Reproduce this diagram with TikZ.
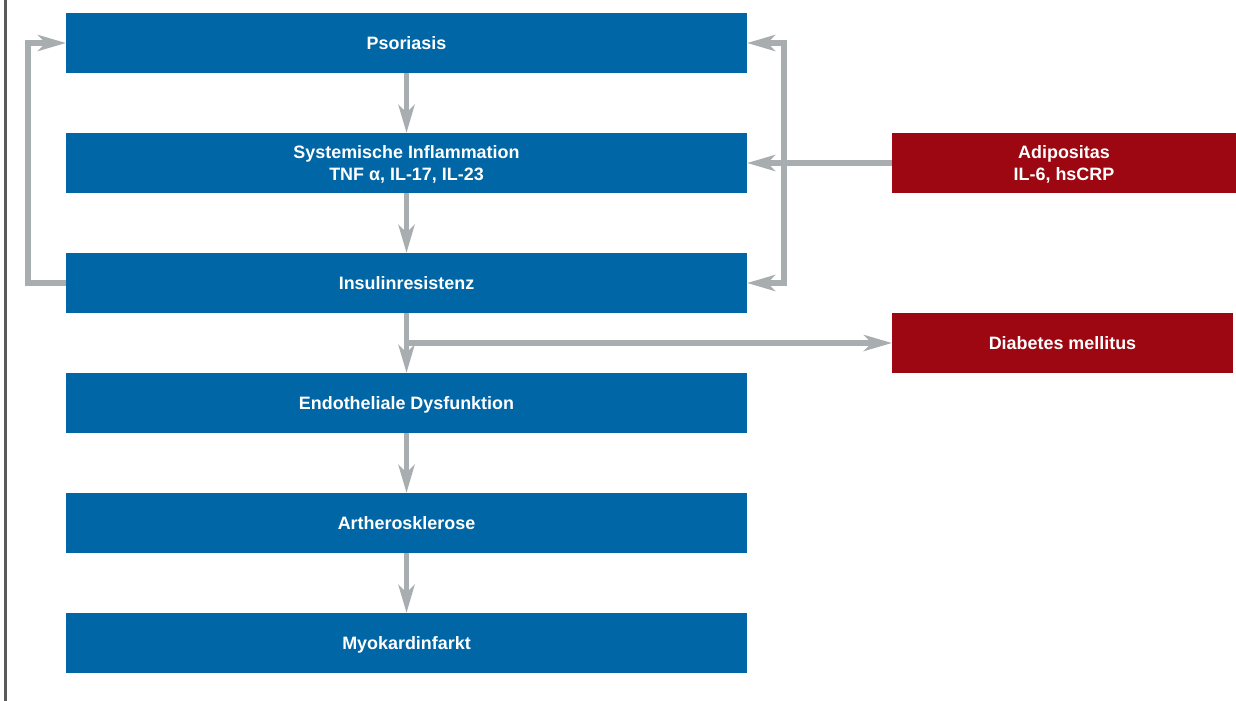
\documentclass[tikz,border=0pt]{standalone}
\usepackage{fontspec}
\setmainfont{Liberation Sans}
\usepackage{xcolor}
\definecolor{blu}{HTML}{0066A6}
\definecolor{rot}{HTML}{9C0711}
\definecolor{grau}{HTML}{A8ADB0}
\definecolor{rand}{HTML}{5A5A5A}
\usetikzlibrary{arrows.meta,positioning,calc}
\tikzset{
  >={Stealth[length=5.6mm,width=3.2mm,inset=1.5mm]},
  box/.style={fill=blu,text=white,minimum width=13.62cm,minimum height=1.2cm,inner sep=0pt,outer sep=0pt,
    text depth=0pt,font=\fontsize{10.2}{13}\selectfont\bfseries,align=center},
  rbox/.style={box,fill=rot,minimum width=6.88cm},
  arr/.style={->,draw=grau,line width=3pt},
  rahmen/.style={draw=rand,line width=1.3pt},
}
\begin{document}
\begin{tikzpicture}[node distance=1.2cm and 2.9cm]
\useasboundingbox (0,0) rectangle (24.72,-14);
\draw[rahmen] (0.11,0.1) -- (0.11,-14.1);
\node[box] at (8.13,-0.86) (pso) {Psoriasis};
\node[box,below=of pso] (sys) {Systemische Inflammation\\TNF α, IL-17, IL-23};
\node[box,below=of sys] (ins) {Insulinresistenz};
\node[box,below=of ins] (endo) {Endotheliale Dysfunktion};
\node[box,below=of endo] (arth) {Artherosklerose};
\node[box,below=of arth] (myo) {Myokardinfarkt};
\node[rbox,right=of sys] (adi) {Adipositas\\IL-6, hsCRP};
\node[rbox,right=of ins,yshift=-1.2cm,minimum width=6.82cm] (dia) {Diabetes mellitus};
% Kette
\draw[arr] (pso) -- (sys); \draw[arr] (sys) -- (ins); \draw[arr] (ins) -- (endo);
\draw[arr] (endo) -- (arth); \draw[arr] (arth) -- (myo);
\draw[arr] (ins.south |- dia.west) -- (dia.west);
% Rueckkopplung
\coordinate (li) at ($(ins.west)+(-0.76,0)$);
\coordinate (re) at ($(pso.east)+(0.74,0)$);
\draw[arr] (ins.west) -- (li) |- (pso.west);
\draw[arr,<->] (pso.east) -- (re) |- (ins.east);
\draw[arr] (adi) -- (sys);
\end{tikzpicture}
\end{document}
